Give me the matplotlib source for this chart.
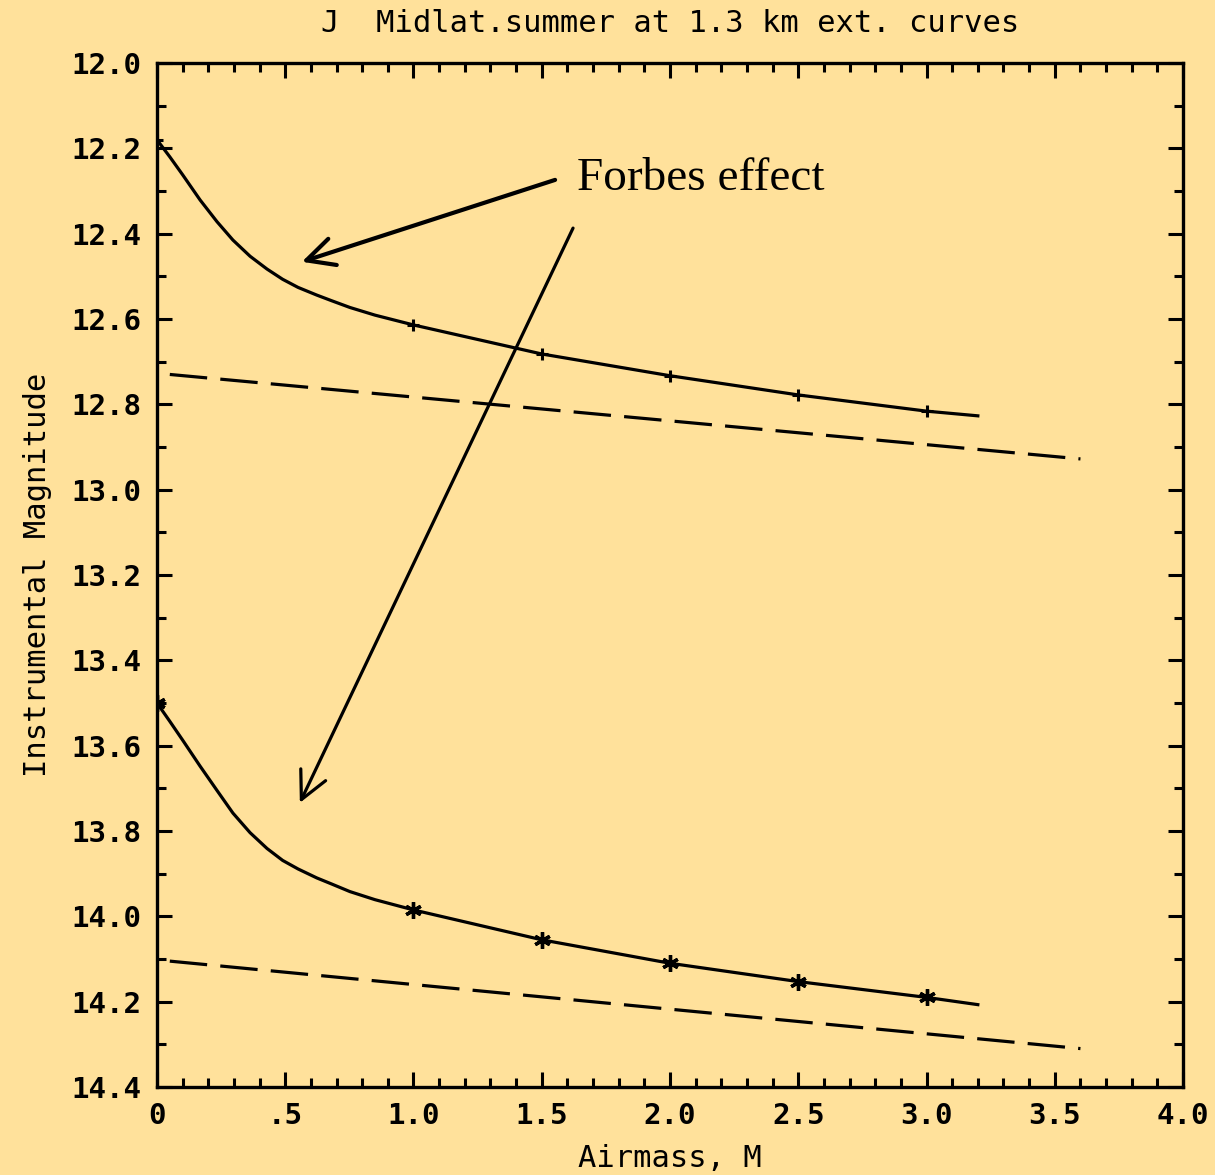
import matplotlib
matplotlib.use("Agg")
import matplotlib.pyplot as plt
from matplotlib.ticker import MultipleLocator, FixedLocator, FixedFormatter

plt.rcParams['lines.scale_dashes'] = False

BG = '#FFE19B'

# Upper star (curve through '+' points)
upper_x = [0.0, 0.05, 0.10, 0.168, 0.234, 0.296, 0.363, 0.429, 0.49, 0.55, 0.623, 0.68, 0.752, 0.85, 1.0, 1.5, 2.0, 2.5, 3.0, 3.2]
upper_y = [12.18, 12.22, 12.262, 12.321, 12.372, 12.415, 12.453, 12.483, 12.507, 12.526, 12.544, 12.557, 12.573, 12.591, 12.614, 12.682, 12.733, 12.778, 12.816, 12.827]
upper_mx = [0.0, 1.0, 1.5, 2.0, 2.5, 3.0]
upper_my = [12.18, 12.614, 12.682, 12.733, 12.778, 12.816]
upper_lin_x = [0.05, 3.6]
upper_lin_y = [12.73, 12.928]

# Lower star (curve through '*' points)
lower_x = [0.0, 0.05, 0.10, 0.168, 0.234, 0.296, 0.363, 0.429, 0.49, 0.55, 0.623, 0.68, 0.752, 0.85, 1.0, 1.5, 2.0, 2.5, 3.0, 3.2]
lower_y = [13.50, 13.543, 13.587, 13.648, 13.705, 13.758, 13.804, 13.841, 13.869, 13.889, 13.91, 13.924, 13.942, 13.961, 13.985, 14.055, 14.11, 14.153, 14.19, 14.207]
lower_mx = [0.0, 1.0, 1.5, 2.0, 2.5, 3.0]
lower_my = [13.50, 13.985, 14.055, 14.11, 14.153, 14.19]
lower_lin_x = [0.05, 3.6]
lower_lin_y = [14.105, 14.31]

xticks = [0, 0.5, 1.0, 1.5, 2.0, 2.5, 3.0, 3.5, 4.0]
xlabels = ['0', '.5', '1.0', '1.5', '2.0', '2.5', '3.0', '3.5', '4.0']
yticks = [12.0, 12.2, 12.4, 12.6, 12.8, 13.0, 13.2, 13.4, 13.6, 13.8, 14.0, 14.2, 14.4]
ylabels = ['%.1f' % v for v in yticks]

fig = plt.figure(figsize=(12.15, 11.75), dpi=100, facecolor=BG)
ax = fig.add_axes([0.1292, 0.0749, 0.8445, 0.8715])
ax.set_facecolor(BG)

lw = 2.3
ax.plot(upper_x, upper_y, color='black', lw=lw, solid_joinstyle='round')
ax.plot(upper_mx, upper_my, ls='none', marker='+', ms=9, mew=2.2, color='black')
ax.plot(upper_lin_x, upper_lin_y, color='black', lw=lw, dashes=(27, 9.5))

ax.plot(lower_x, lower_y, color='black', lw=lw, solid_joinstyle='round')
ax.plot(lower_mx, lower_my, ls='none', marker=(6, 2, 0), ms=12, mew=2.4, color='black')
ax.plot(lower_lin_x, lower_lin_y, color='black', lw=lw, dashes=(27, 9.5))

ax.set_xlim(0, 4.0)
ax.set_ylim(14.4, 12.0)

ax.xaxis.set_major_locator(FixedLocator(xticks))
ax.xaxis.set_major_formatter(FixedFormatter(xlabels))
ax.xaxis.set_minor_locator(MultipleLocator(0.1))
ax.yaxis.set_major_locator(FixedLocator(yticks))
ax.yaxis.set_major_formatter(FixedFormatter(ylabels))
ax.yaxis.set_minor_locator(MultipleLocator(0.1))

mono = 'DejaVu Sans Mono'
ax.tick_params(which='both', direction='in', top=True, right=True, color='black', width=2.2)
ax.tick_params(which='major', length=11)
ax.tick_params(which='minor', length=6.5)
ax.tick_params(axis='x', which='major', pad=11, labelsize=21)
ax.tick_params(axis='y', which='major', pad=11, labelsize=21)
for lab in ax.get_xticklabels() + ax.get_yticklabels():
    lab.set_fontfamily(mono)
    lab.set_fontweight('bold')

for s in ax.spines.values():
    s.set_linewidth(2.4)

ax.set_xlabel('Airmass, M', fontfamily=mono, fontsize=22, labelpad=10)
ax.set_ylabel('Instrumental Magnitude', fontfamily=mono, fontsize=22, labelpad=14)
ax.set_title('J  Midlat.summer at 1.3 km ext. curves', fontfamily=mono, fontsize=22, pad=22)

arrow = dict(arrowstyle='->, head_length=0.9, head_width=0.45', color='black', lw=3.0,
             mutation_scale=22, shrinkA=0, shrinkB=0)
ax.annotate('', xy=(0.565, 12.466), xytext=(1.552, 12.274), arrowprops=arrow)
arrow2 = dict(arrow)
arrow2['lw'] = 2.3
ax.annotate('', xy=(0.557, 13.734), xytext=(1.622, 12.387), arrowprops=arrow2)
ax.text(1.638, 12.298, 'Forbes effect', fontfamily='Liberation Serif', fontsize=34,
        ha='left', va='baseline')

fig.savefig('out.png', dpi=100, facecolor=BG)
